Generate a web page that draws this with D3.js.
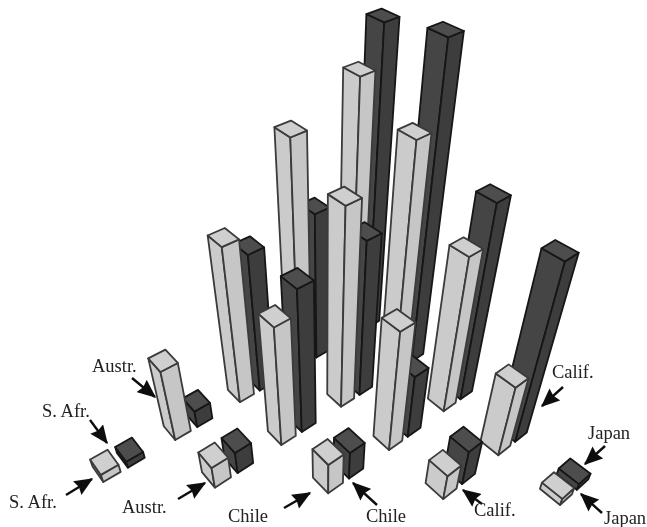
<!DOCTYPE html>
<html>
<head>
<meta charset="utf-8">
<title>3D bars</title>
<script src="https://cdn.jsdelivr.net/npm/d3@7"></script>
<style>
  html, body { margin: 0; padding: 0; background: #fff; }
  svg { display: block; }
  text { font-family: "Liberation Serif", serif; font-size: 18.5px; fill: #222; }
</style>
</head>
<body>
<div id="chart"></div>
<script>
// 3D bar pairs on a triangular grid
const countries = ['S. Afr.', 'Austr.', 'Chile', 'Calif.', 'Japan'];
const seriesNames = ['light', 'dark'];

// one list per row of the triangle, starting at the column of the same name
const lightSAfr  = [1.46, 12.7, 26.2, 36.4, 40.6];
const lightAustr = [3.94, 20.6, 32.2, 36.5];
const lightChile = [5.63, 20.7, 26.0];
const lightCalif = [4.6, 12.6];
const lightJapan = [1.27];

const darkSAfr  = [1.2, 3.1, 23.5, 24.9, 45.9];
const darkAustr = [4.0, 24.3, 26.1, 46.9];
const darkChile = [5.07, 11.3, 31.7];
const darkCalif = [6.3, 29.3];
const darkJapan = [1.16];

const lightRows = [lightSAfr, lightAustr, lightChile, lightCalif, lightJapan];
const darkRows  = [darkSAfr, darkAustr, darkChile, darkCalif, darkJapan];

// label text, tail and tip of the arrow
const notes = [
  { label: 'Austr.',  lx: 92,  ly: 372, from: [132, 378], to: [155, 397] },
  { label: 'S. Afr.', lx: 42,  ly: 417, from: [90, 420],  to: [107, 443] },
  { label: 'S. Afr.', lx: 9,   ly: 508, from: [66, 495],  to: [92, 479] },
  { label: 'Austr.',  lx: 122, ly: 513, from: [178, 499], to: [205, 483] },
  { label: 'Chile',   lx: 228, ly: 522, from: [284, 508], to: [310, 493] },
  { label: 'Chile',   lx: 366, ly: 522, from: [377, 505], to: [353, 483] },
  { label: 'Calif.',  lx: 474, ly: 516, from: [482, 504], to: [463, 490] },
  { label: 'Calif.',  lx: 552, ly: 378, from: [563, 387], to: [542, 406] },
  { label: 'Japan',   lx: 588, ly: 439, from: [605, 446], to: [585, 464] },
  { label: 'Japan',   lx: 604, ly: 524, from: [602, 513], to: [581, 494] },
];

const W = 647, H = 527;

const svg = d3.select('#chart').append('svg')
  .attr('width', W).attr('height', H)
  .attr('viewBox', `0 0 ${W} ${H}`);

const defs = svg.append('defs');
defs.append('filter').attr('id', 'soft')
  .append('feGaussianBlur').attr('stdDeviation', 0.55);
defs.append('filter').attr('id', 'softer')
  .append('feGaussianBlur').attr('stdDeviation', 0.3);
defs.append('marker').attr('id', 'head')
  .attr('markerUnits', 'userSpaceOnUse')
  .attr('viewBox', '0 0 14 12').attr('refX', 13).attr('refY', 6)
  .attr('markerWidth', 19).attr('markerHeight', 16)
  .attr('orient', 'auto')
  .append('path').attr('d', 'M0,0L14,6L0,12L1.5,6Z').attr('fill', '#111');

// ground position along the two grid directions
const uScale = d3.scalePoint().domain(countries).range([0, 1]);
const vScale = d3.scalePoint().domain(countries).range([1, 0]);
const offset = d3.scalePoint().domain(seriesNames).range([0, 0.0825]);
const zScale = d3.scaleLinear().domain([0, 100]).range([0, 1]);

const barU = 0.058, barV = 0.078;

// perspective projection, fitted by eye to the picture
function project(u, v, z) {
  const kz = zScale(z);
  const w = 1 + 0.301 * u + 0.341 * v - kz;
  return [
    (290 + 438.6 * u - 151.5 * v - 325 * kz) / w,
    (750 - 93 * u - 103.6 * v - 1130 * kz) / w,
  ];
}

const bars = [];
seriesNames.forEach(s => {
  const rows = s === 'light' ? lightRows : darkRows;
  rows.forEach((vals, j) => {
    vals.forEach((value, n) => {
      const i = j + n;
      bars.push({
        series: s,
        u: uScale(countries[i]) + offset(s),
        v: vScale(countries[j]),
        value,
      });
    });
  });
});
// paint far bars first
bars.sort((a, b) => (b.u + b.v) - (a.u + a.v));

const poly = pts => 'M' + pts.map(p => p.join(',')).join('L') + 'Z';

const fills = {
  light: { left: '#cbcbcb', right: '#c6c6c6', top: '#cfcfcf', line: '#3a3a3a' },
  dark:  { left: '#454545', right: '#3e3e3e', top: '#4e4e4e', line: '#161616' },
};

const barG = svg.append('g').attr('filter', 'url(#soft)')
  .selectAll('g.bar')
  .data(bars)
  .join('g')
  .attr('class', 'bar')
  .attr('stroke-width', 1.8)
  .attr('stroke-linejoin', 'round');

barG.each(function(d) {
  const g = d3.select(this);
  const c = fills[d.series];
  const f0 = project(d.u, d.v, 0);
  const l0 = project(d.u, d.v + barV, 0);
  const r0 = project(d.u + barU, d.v, 0);
  const f1 = project(d.u, d.v, d.value);
  // the tall tops read a bit deeper in the picture than the projection gives
  const stretch = 1 + Math.max(0, zScale(d.value) - 0.3) * 1.2;
  const deepen = p => [p[0], f1[1] + (p[1] - f1[1]) * stretch];
  const l1 = deepen(project(d.u, d.v + barV, d.value));
  const r1 = deepen(project(d.u + barU, d.v, d.value));
  const b1 = deepen(project(d.u + barU, d.v + barV, d.value));
  g.append('path').attr('d', poly([f0, l0, l1, f1])).attr('fill', c.left).attr('stroke', c.line);
  g.append('path').attr('d', poly([f0, r0, r1, f1])).attr('fill', c.right).attr('stroke', c.line);
  g.append('path').attr('d', poly([f1, l1, b1, r1])).attr('fill', c.top).attr('stroke', c.line);
});

const noteG = svg.append('g').attr('filter', 'url(#softer)');
noteG.selectAll('line')
  .data(notes)
  .join('line')
  .attr('x1', d => d.from[0]).attr('y1', d => d.from[1])
  .attr('x2', d => d.to[0]).attr('y2', d => d.to[1])
  .attr('stroke', '#111').attr('stroke-width', 2.4)
  .attr('marker-end', 'url(#head)');
noteG.selectAll('text')
  .data(notes)
  .join('text')
  .attr('x', d => d.lx).attr('y', d => d.ly)
  .text(d => d.label);
</script>
</body>
</html>
